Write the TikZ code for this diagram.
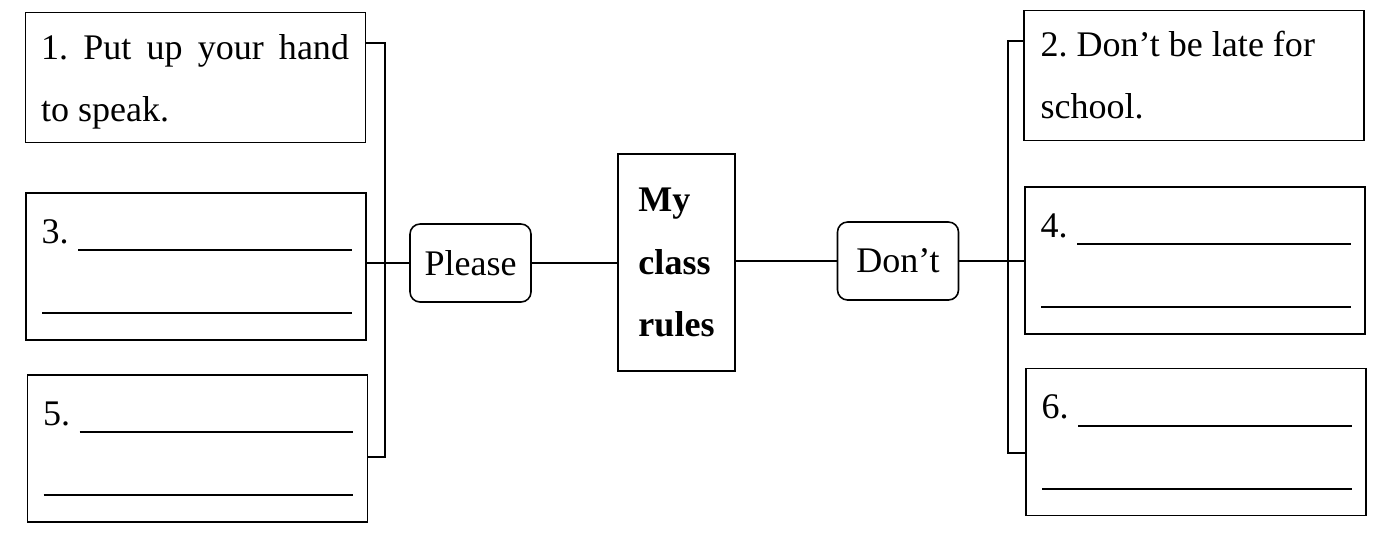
\documentclass[tikz,border=0pt]{standalone}
\usepackage{fontspec}
\setmainfont{Liberation Serif}
\usetikzlibrary{positioning,calc}
\tikzset{rulebox/.style={rectangle,draw,line width=0.9pt,minimum width=6.8cm,inner sep=0pt},
smallbox/.style={rulebox,minimum height=2.6cm},
bigbox/.style={rulebox,minimum height=2.94cm},
tag/.style={rectangle,rounded corners=0.2cm,draw,line width=0.9pt,minimum width=2.42cm,
minimum height=1.56cm,inner sep=0pt,font=\fontsize{20.5}{35.5}\selectfont},
title/.style={rectangle,draw,line width=0.9pt,minimum width=2.34cm,minimum height=4.34cm,
inner sep=0pt,align=left,font=\fontsize{20.5}{35.7}\selectfont\bfseries},
words/.style={inner sep=0pt,anchor=base west,align=left,
font=\fontsize{20.5}{35.5}\selectfont\frenchspacing},
link/.style={line width=0.9pt},
blank/.style={line width=0.9pt}}
\begin{document}
\begin{tikzpicture}[x=0.02cm,y=-0.02cm]
  \useasboundingbox (0,0) rectangle (1381,535);
  % left column
  \node (b1) [smallbox] at (195.5,77.5) {};
  \node (b3) [bigbox] at (196,266.5) {};
  \node (b5) [bigbox] at (197.5,448.5) {};
  % right column
  \node (b2) [smallbox] at (1194,75.5) {};
  \node (b4) [bigbox] at (1195,260.5) {};
  \node (b6) [bigbox] at (1196,442) {};
  % middle
  \node (please) [tag] at (470.5,263) {Please};
  \node (rules) [title] at (676.5,262.5) {My\\class\\rules};
  \node (dont) [tag] at (898,261) {Don’t};
  % base is the last line here
  \node (t1) [words] at ($(b1.north west)+(16,110)$) {\makebox[6.16cm][s]{1. Put up your hand}\\to speak.};
  \node (t2) [words] at ($(b2.north west)+(17,109)$) {2. Don’t be late for\\school.};
  \foreach \b/\n in {b3/3,b5/5,b4/4,b6/6} {
    \node (num\n) [words] at ($(\b.north west)+(16,51)$) {\n.};
    \draw [blank] ($(\b.north west)+(53,58)$) -- ($(\b.north east)+(-15,58)$);
    \draw [blank] ($(\b.north west)+(17,121)$) -- ($(\b.north east)+(-15,121)$);
  }
  \coordinate (lt) at (385,43);
  \coordinate (lb) at (385,457);
  \coordinate (rt) at (1008,41);
  \coordinate (rb) at (1008,453);
  \draw [link] (b1.east |- lt) -- (lt) -- (lb) -- (b5.east |- lb);
  \draw [link] (b3.east |- please.west) -- (please.west);
  \draw [link] (please.east) -- (rules.west |- please.east);
  \draw [link] (rules.east |- dont.west) -- (dont.west);
  \draw [link] (dont.east) -- (b4.west |- dont.east);
  \draw [link] (b2.west |- rt) -- (rt) -- (rb) -- (b6.west |- rb);
\end{tikzpicture}
\end{document}
